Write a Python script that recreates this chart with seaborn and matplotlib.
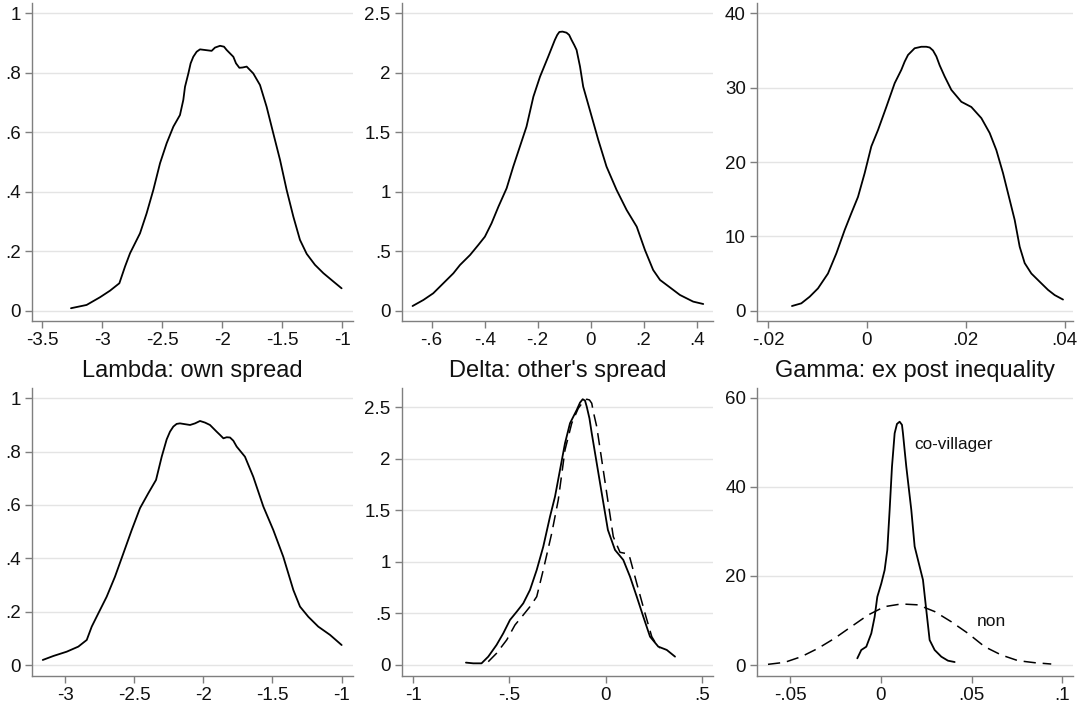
import matplotlib
matplotlib.use("Agg")
import matplotlib.pyplot as plt
import seaborn as sns
import pandas as pd

sns.set_style("white")
plt.rcParams['font.family'] = ['Liberation Sans', 'DejaVu Sans']

# ---------------- data ----------------
lambda1_x = [-3.261, -3.131, -3.019, -2.936, -2.858, -2.811, -2.769, -2.686, -2.631, -2.575,
             -2.519, -2.464, -2.408, -2.353, -2.325, -2.311, -2.283, -2.264, -2.242, -2.214,
             -2.186, -2.089, -2.061, -2.019, -1.986, -1.964, -1.908, -1.886, -1.858, -1.831,
             -1.797, -1.742, -1.686, -1.631, -1.575, -1.519, -1.464,
             -1.408, -1.353, -1.297, -1.228, -1.158, -1.075, -1.006]
lambda1_y = [0.008, 0.019, 0.045, 0.067, 0.092, 0.148, 0.193, 0.260, 0.327, 0.406,
             0.496, 0.563, 0.619, 0.658, 0.709, 0.753, 0.798, 0.832, 0.854, 0.871,
             0.879, 0.874, 0.885, 0.891, 0.888, 0.877, 0.854, 0.832, 0.817, 0.818,
             0.821, 0.798, 0.759, 0.686, 0.596, 0.507, 0.406,
             0.316, 0.238, 0.191, 0.154, 0.126, 0.098, 0.075]

delta1_x = [-0.672, -0.631, -0.594, -0.556, -0.518, -0.493, -0.455, -0.424, -0.399, -0.374,
            -0.348, -0.317, -0.292, -0.267, -0.242, -0.216, -0.191, -0.160, -0.135, -0.126,
            -0.118, -0.106, -0.091, -0.081, -0.072, -0.062, -0.053, -0.040, -0.028, -0.003,
            0.029, 0.060, 0.098, 0.136,
            0.174, 0.205, 0.236, 0.262, 0.299, 0.337, 0.387, 0.425]
delta1_y = [0.039, 0.090, 0.146, 0.230, 0.314, 0.384, 0.468, 0.552, 0.622, 0.734,
            0.874, 1.029, 1.211, 1.379, 1.547, 1.799, 1.967, 2.136, 2.276, 2.318,
            2.343, 2.346, 2.337, 2.318, 2.276, 2.234, 2.192, 2.052, 1.883, 1.687,
            1.435, 1.211, 1.015, 0.846,
            0.706, 0.510, 0.342, 0.258, 0.196, 0.132, 0.076, 0.056]

gamma1_x = [-0.01515, -0.01326, -0.01157, -0.00989, -0.00787, -0.00618, -0.00449, -0.00315,
            -0.00180, -0.00045, 0.00090, 0.00225, 0.00393, 0.00562, 0.00697, 0.00764, 0.00832,
            0.00966, 0.01034, 0.01101, 0.01202, 0.01270, 0.01337, 0.01405, 0.01472, 0.01573,
            0.01708, 0.01910, 0.02112, 0.02315, 0.02483,
            0.02618, 0.02753, 0.02888, 0.02989, 0.03090, 0.03191, 0.03326, 0.03494, 0.03663,
            0.03798, 0.03966]
gamma1_y = [0.63, 0.99, 1.88, 3.0, 5.0, 7.7, 10.85, 13.1, 15.3, 18.5, 22.1, 24.3, 27.4,
            30.6, 32.4, 33.5, 34.4, 35.3, 35.4, 35.5, 35.5, 35.4, 35.0, 34.2, 33.0, 31.5,
            29.7, 28.1, 27.4, 25.9, 23.9,
            21.6, 18.5, 14.9, 12.2, 8.6, 6.4, 5.0, 3.9, 2.8, 2.1, 1.5]

lambda2_x = [-3.161, -3.084, -2.988, -2.904, -2.843, -2.807, -2.759, -2.699, -2.639, -2.578,
             -2.518, -2.458, -2.398, -2.342, -2.301, -2.265, -2.241, -2.217, -2.193, -2.169,
             -2.133, -2.096, -2.060, -2.024, -1.988, -1.952, -1.904, -1.880, -1.855, -1.831,
             -1.807, -1.783, -1.759, -1.699, -1.639, -1.566, -1.494, -1.422,
             -1.349, -1.301, -1.241, -1.169, -1.084, -1.000]
lambda2_y = [0.019, 0.034, 0.050, 0.069, 0.094, 0.144, 0.194, 0.256, 0.331, 0.419,
             0.506, 0.588, 0.644, 0.694, 0.781, 0.846, 0.875, 0.894, 0.904, 0.906,
             0.903, 0.900, 0.906, 0.915, 0.909, 0.900, 0.875, 0.863, 0.850, 0.854,
             0.853, 0.841, 0.819, 0.781, 0.706, 0.594, 0.506, 0.406,
             0.281, 0.219, 0.181, 0.144, 0.113, 0.075]

delta2_co_x = [-0.726, -0.688, -0.645, -0.610, -0.567, -0.532, -0.497, -0.462, -0.428, -0.393,
               -0.358, -0.324, -0.289, -0.263, -0.237, -0.211, -0.185, -0.150, -0.133, -0.119,
               -0.107, -0.098, -0.084,
               -0.072, -0.046, -0.020, 0.012, 0.049, 0.092, 0.127, 0.162, 0.196, 0.231,
               0.274, 0.318, 0.361]
delta2_co_y = [0.023, 0.016, 0.016, 0.081, 0.194, 0.307, 0.437, 0.517, 0.598, 0.728,
               0.922, 1.148, 1.439, 1.633, 1.892, 2.151, 2.345, 2.474, 2.545, 2.578,
               2.565, 2.506, 2.393,
               2.248, 1.957, 1.666, 1.310, 1.116, 1.019, 0.857, 0.663, 0.469, 0.275,
               0.178, 0.146, 0.081]
delta2_non_x = [-0.610, -0.567, -0.514, -0.471, -0.428, -0.393, -0.358, -0.324, -0.280, -0.246,
                -0.211, -0.176, -0.142, -0.116, -0.098, -0.084, -0.072, -0.064, -0.046, -0.020,
                0.006, 0.040, 0.075,
                0.118, 0.127, 0.162, 0.205, 0.240, 0.266, 0.283]
delta2_non_y = [0.032, 0.113, 0.243, 0.388, 0.485, 0.566, 0.663, 0.922, 1.278, 1.601,
                2.086, 2.345, 2.490, 2.555, 2.578, 2.571, 2.539, 2.458, 2.312, 1.989,
                1.666, 1.245, 1.093,
                1.077, 1.035, 0.792, 0.501, 0.275, 0.194, 0.165]

gamma2_co_x = [-0.01305, -0.01085, -0.00809, -0.00533, -0.00349, -0.00202, 0.00018, 0.00202,
               0.00349, 0.00478, 0.00607, 0.00680, 0.00754, 0.00882, 0.01029, 0.01158, 0.01213,
               0.01305, 0.01397, 0.01673, 0.01857,
               0.02132, 0.02316, 0.02500, 0.02684, 0.02960, 0.03327, 0.03695, 0.04063]
gamma2_co_y = [1.50, 3.37, 4.11, 7.1, 10.8, 15.3, 18.3, 21.3, 25.8, 34.8, 44.5, 48.2, 52.0,
               54.1, 54.6, 53.9, 52.0, 48.2, 44.5, 34.8, 26.6,
               22.1, 19.1, 12.3, 5.6, 3.37, 1.87, 0.97, 0.67]
gamma2_non_x = [-0.0623, -0.0531, -0.0439, -0.0347, -0.0256, -0.0164, -0.0072, 0.0020, 0.0112,
                0.0204, 0.0296, 0.0388, 0.0480, 0.0572, 0.0664, 0.0756, 0.0847, 0.0939]
gamma2_non_y = [0.15, 0.60, 1.87, 3.74, 5.98, 8.60, 11.2, 13.1, 13.7, 13.5, 12.0, 9.7, 7.1,
                4.1, 2.24, 0.97, 0.52, 0.22]

titles = ["Lambda: own spread", "Delta: other's spread", "Gamma: ex post inequality"]
label_co = "co-villager"
label_non = "non"

# ticks and tick labels
p1_xt = [-3.5, -3, -2.5, -2, -1.5, -1]; p1_xl = ["-3.5", "-3", "-2.5", "-2", "-1.5", "-1"]
p1_yt = [0, 0.2, 0.4, 0.6, 0.8, 1];     p1_yl = ["0", ".2", ".4", ".6", ".8", "1"]
p2_xt = [-0.6, -0.4, -0.2, 0, 0.2, 0.4]; p2_xl = ["-.6", "-.4", "-.2", "0", ".2", ".4"]
p2_yt = [0, 0.5, 1, 1.5, 2, 2.5];       p2_yl = ["0", ".5", "1", "1.5", "2", "2.5"]
p3_xt = [-0.02, 0, 0.02, 0.04];         p3_xl = ["-.02", "0", ".02", ".04"]
p3_yt = [0, 10, 20, 30, 40];            p3_yl = ["0", "10", "20", "30", "40"]
p4_xt = [-3, -2.5, -2, -1.5, -1];       p4_xl = ["-3", "-2.5", "-2", "-1.5", "-1"]
p4_yt = [0, 0.2, 0.4, 0.6, 0.8, 1];     p4_yl = ["0", ".2", ".4", ".6", ".8", "1"]
p5_xt = [-1, -0.5, 0, 0.5];             p5_xl = ["-1", "-.5", "0", ".5"]
p5_yt = [0, 0.5, 1, 1.5, 2, 2.5];       p5_yl = ["0", ".5", "1", "1.5", "2", "2.5"]
p6_xt = [-0.05, 0, 0.05, 0.1];          p6_xl = ["-.05", "0", ".05", ".1"]
p6_yt = [0, 20, 40, 60];                p6_yl = ["0", "20", "40", "60"]

# ---------------- layout ----------------
W, H = 1078, 704
fig = plt.figure(figsize=(W / 100, H / 100), dpi=100)


def rect(l, t, r, b):
    return [l / W, 1 - b / H, (r - l) / W, (b - t) / H]


AX_COL = "#7f7f7f"
GRID_COL = "#e4e4e4"
LW = 1.3
TICK_FS = 13.5
TITLE_FS = 17


def style(ax, xt, xl, yt, yl, xlim, ylim):
    ax.set_xlim(*xlim)
    ax.set_ylim(*ylim)
    ax.set_xticks(xt)
    ax.set_xticklabels(xl)
    ax.set_yticks(yt)
    ax.set_yticklabels(yl)
    for s in ["top", "right"]:
        ax.spines[s].set_visible(False)
    for s in ["left", "bottom"]:
        ax.spines[s].set_color(AX_COL)
        ax.spines[s].set_linewidth(1.0)
    ax.tick_params(axis="both", direction="out", length=5, width=1.0, color=AX_COL,
                   labelsize=TICK_FS, labelcolor="#111111", pad=3,
                   left=True, bottom=True)
    ax.grid(False)
    for y in yt:
        ax.axhline(y, color=GRID_COL, lw=1.0, zorder=0)
    ax.set_xlabel("")
    ax.set_ylabel("")


def draw(ax, x, y, dashed=False):
    df = pd.DataFrame({"x": x, "y": y})
    sns.lineplot(data=df, x="x", y="y", ax=ax, sort=False, estimator=None,
                 color="black", lw=LW if not dashed else 1.1,
                 linestyle=(0, (8, 4.5)) if dashed else "-",
                 solid_joinstyle="round", dash_joinstyle="round")


ax1 = fig.add_axes(rect(32, 3.3, 353, 321))
draw(ax1, lambda1_x, lambda1_y)
style(ax1, p1_xt, p1_xl, p1_yt, p1_yl, (-3.586, -0.911), (-0.035, 1.034))

ax2 = fig.add_axes(rect(401.7, 3.3, 713.3, 321))
draw(ax2, delta1_x, delta1_y)
style(ax2, p2_xt, p2_xl, p2_yt, p2_yl, (-0.713, 0.463), (-0.087, 2.584))

ax3 = fig.add_axes(rect(757, 3.3, 1073, 321))
draw(ax3, gamma1_x, gamma1_y)
style(ax3, p3_xt, p3_xl, p3_yt, p3_yl, (-0.02222, 0.04168), (-1.385, 41.345))

ax4 = fig.add_axes(rect(31.7, 388.3, 352.7, 675.7))
draw(ax4, lambda2_x, lambda2_y)
style(ax4, p4_xt, p4_xl, p4_yt, p4_yl, (-3.241, -0.920), (-0.040, 1.0375))
ax4.set_title(titles[0], fontsize=TITLE_FS, pad=8, color="#111111")

ax5 = fig.add_axes(rect(401.7, 388.3, 713.3, 675.7))
draw(ax5, delta2_co_x, delta2_co_y)
draw(ax5, delta2_non_x, delta2_non_y, dashed=True)
style(ax5, p5_xt, p5_xl, p5_yt, p5_yl, (-1.060, 0.560), (-0.104, 2.684))
ax5.set_title(titles[1], fontsize=TITLE_FS, pad=8, color="#111111")

ax6 = fig.add_axes(rect(757.3, 388.3, 1073, 675.7))
draw(ax6, gamma2_co_x, gamma2_co_y)
draw(ax6, gamma2_non_x, gamma2_non_y, dashed=True)
style(ax6, p6_xt, p6_xl, p6_yt, p6_yl, (-0.0682, 0.1059), (-2.4, 62.1))
ax6.set_title(titles[2], fontsize=TITLE_FS, pad=8, color="#111111")
ax6.text(0.0186, 49.4, label_co, fontsize=12.3, va="center", ha="left", color="#111111")
ax6.text(0.0526, 9.7, label_non, fontsize=12.5, va="center", ha="left", color="#111111")

fig.savefig("out.png", dpi=100)
